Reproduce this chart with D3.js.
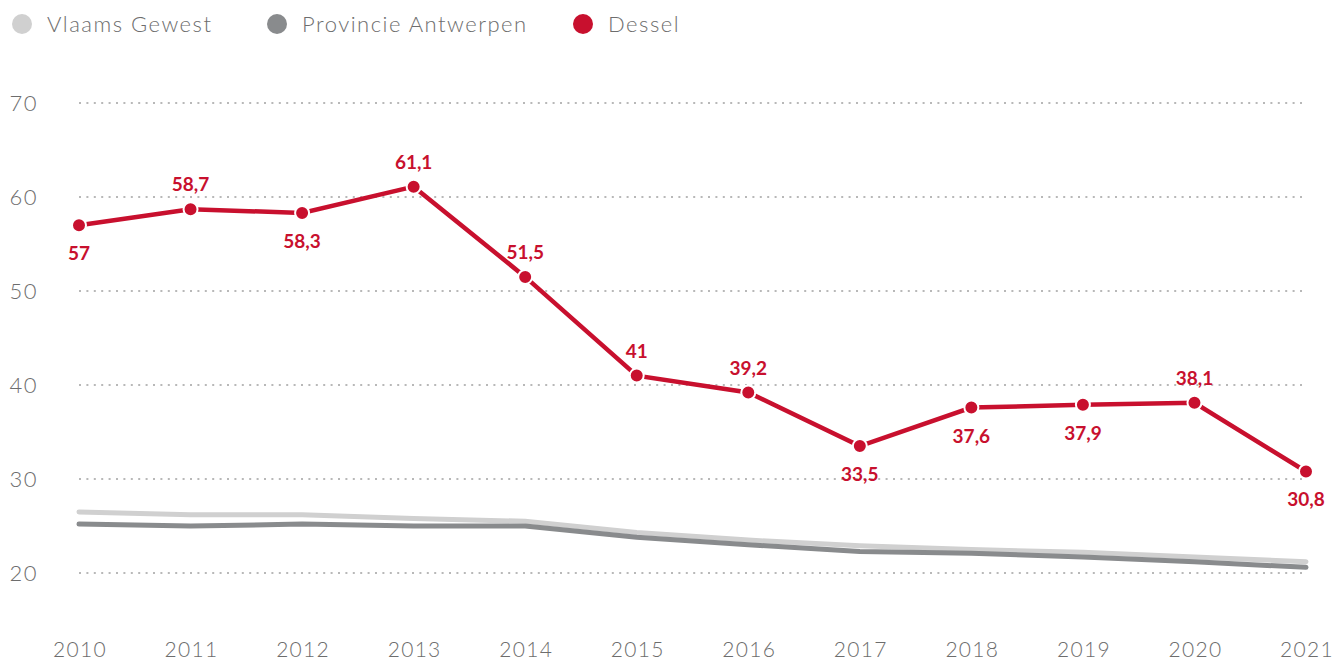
<!DOCTYPE html>
<html><head><meta charset="utf-8">
<script src="https://cdn.jsdelivr.net/npm/d3@7"></script>
<style>
body{margin:0;background:#fff;}
text{font-family:Lato,"Open Sans",sans-serif;}
</style></head>
<body>
<svg id="c" width="1336" height="660"></svg>
<script>
const years = [2010,2011,2012,2013,2014,2015,2016,2017,2018,2019,2020,2021];
const vlaams = [26.5,26.2,26.2,25.8,25.5,24.3,23.5,22.9,22.5,22.2,21.7,21.2];
const antwerpen = [25.2,25.0,25.2,25.0,25.0,23.8,23.0,22.3,22.1,21.7,21.2,20.6];
const dessel = [57,58.7,58.3,61.1,51.5,41,39.2,33.5,37.6,37.9,38.1,30.8];
const labelPos = ["below","above","below","above","above","above","above","below","below","below","above","below"];
const yTicks = [20,30,40,50,60,70];
const seriesNames = ["Vlaams Gewest","Provincie Antwerpen","Dessel"];
const colors = ["#d0d0d0","#898b8d","#c8102e"];

const svg = d3.select("#c");
const x = d3.scaleLinear().domain([2010,2021]).range([79,1306]);
const y = d3.scaleLinear().domain([20,70]).range([573,103]);

// grid
svg.append("g").selectAll("line").data(yTicks).join("line")
  .attr("x1",79).attr("x2",1306)
  .attr("y1",d=>y(d)).attr("y2",d=>y(d))
  .attr("stroke","#b8b8b8").attr("stroke-width",2)
  .attr("stroke-dasharray","2,5.4");

// y labels
svg.append("g").selectAll("text").data(yTicks).join("text")
  .attr("x",38).attr("y",d=>y(d)+8)
  .attr("text-anchor","end").attr("font-size",22).attr("font-weight",300)
  .attr("letter-spacing","1.5px")
  .attr("fill","#6d6d6d").text(d=>d);

// x labels
svg.append("g").selectAll("text").data(years).join("text")
  .attr("x",d=>x(d)+1).attr("y",657)
  .attr("text-anchor","middle").attr("font-size",21).attr("font-weight",300)
  .attr("letter-spacing","1.3px")
  .attr("fill","#6d6d6d").text(d=>d);

const line = d3.line().x((d,i)=>x(years[i])).y(d=>y(d));

svg.append("path").datum(vlaams).attr("d",line)
  .attr("fill","none").attr("stroke",colors[0]).attr("stroke-width",5).attr("stroke-linecap","round");
svg.append("path").datum(antwerpen).attr("d",line)
  .attr("fill","none").attr("stroke",colors[1]).attr("stroke-width",5).attr("stroke-linecap","round");
svg.append("path").datum(dessel).attr("d",line)
  .attr("fill","none").attr("stroke",colors[2]).attr("stroke-width",4.5);

svg.append("g").selectAll("circle").data(dessel).join("circle")
  .attr("cx",(d,i)=>x(years[i])).attr("cy",d=>y(d)).attr("r",7)
  .attr("fill",colors[2]).attr("stroke","#fff").attr("stroke-width",2);

svg.append("g").selectAll("text").data(dessel).join("text")
  .attr("x",(d,i)=>x(years[i]))
  .attr("y",(d,i)=>labelPos[i]==="above"? y(d)-18 : y(d)+35)
  .attr("text-anchor","middle").attr("font-size",19).attr("font-weight",700)
  .attr("fill",colors[2]).text(d=>String(d).replace(".",","));

// legend
const legX = [22,277,583];
const lg = svg.append("g");
seriesNames.forEach((n,i)=>{
  lg.append("circle").attr("cx",legX[i]).attr("cy",24).attr("r",10).attr("fill",colors[i]);
  lg.append("text").attr("x",legX[i]+25).attr("y",32).attr("font-size",22).attr("font-weight",300)
    .attr("letter-spacing","1.5px")
    .attr("fill","#6d6d6d").text(n);
});
</script>
</body></html>
